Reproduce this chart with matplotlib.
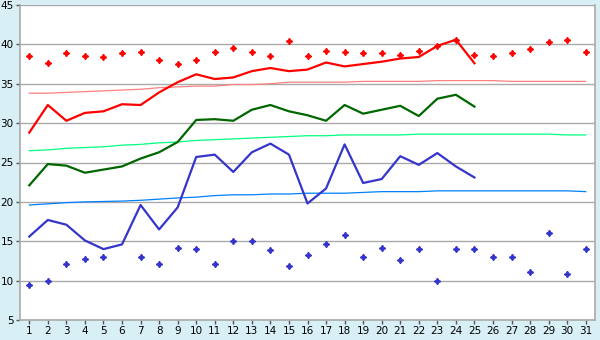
import numpy as np
import matplotlib
matplotlib.use("Agg")
import matplotlib.pyplot as plt

days = list(range(1, 32))

# daily max / mean / min (days 1-25)
tmax = [28.8, 32.3, 30.3, 31.3, 31.5, 32.4, 32.3, 33.9, 35.2, 36.2,
        35.6, 35.8, 36.6, 37.0, 36.6, 36.8, 37.7, 37.2, 37.5, 37.8,
        38.2, 38.4, 39.8, 40.6, 37.6]
tmean = [22.1, 24.8, 24.6, 23.7, 24.1, 24.5, 25.5, 26.3, 27.6, 30.4,
         30.5, 30.3, 31.7, 32.3, 31.5, 31.0, 30.3, 32.3, 31.2, 31.7,
         32.2, 30.9, 33.1, 33.6, 32.1]
tmin = [15.6, 17.7, 17.1, 15.1, 14.0, 14.6, 19.6, 16.5, 19.3, 25.7,
        26.0, 23.8, 26.3, 27.4, 26.0, 19.8, 21.7, 27.3, 22.4, 22.9,
        25.8, 24.7, 26.2, 24.5, 23.1]

# record values per day
rec_max = [38.5, 37.6, 38.9, 38.5, 38.4, 38.9, 39.0, 38.0, 37.5, 38.0,
           39.0, 39.6, 39.0, 38.5, 40.4, 38.5, 39.1, 39.0, 38.9, 38.9,
           38.7, 39.2, 39.8, 40.6, 38.6, 38.5, 38.9, 39.4, 40.3, 40.6,
           39.0]
rec_min = [9.4, 10.0, 12.1, 12.8, 13.0, None, 13.0, 12.1, 14.2, 14.0,
           12.1, 15.0, 15.0, 13.9, 11.8, 13.2, 14.6, 15.8, 13.0, 14.2,
           12.6, 14.0, 10.0, 14.0, 14.0, 13.0, 13.0, 11.1, 16.0, 10.8,
           14.0]

# normals
norm_max = [33.8, 33.8, 33.9, 34.0, 34.1, 34.2, 34.3, 34.5, 34.6, 34.7,
            34.7, 34.9, 34.9, 35.0, 35.2, 35.2, 35.2, 35.2, 35.3, 35.3,
            35.3, 35.3, 35.4, 35.4, 35.4, 35.4, 35.3, 35.3, 35.3, 35.3,
            35.3]
norm_mean = [26.5, 26.6, 26.8, 26.9, 27.0, 27.2, 27.3, 27.5, 27.6, 27.8,
             27.9, 28.0, 28.1, 28.2, 28.3, 28.4, 28.4, 28.5, 28.5, 28.5,
             28.5, 28.6, 28.6, 28.6, 28.6, 28.6, 28.6, 28.6, 28.6, 28.5,
             28.5]
norm_min = [19.6, 19.75, 19.9, 20.0, 20.05, 20.1, 20.2, 20.35, 20.5, 20.6,
            20.8, 20.9, 20.9, 21.0, 21.0, 21.1, 21.1, 21.1, 21.2, 21.3,
            21.3, 21.3, 21.4, 21.4, 21.4, 21.4, 21.4, 21.4, 21.4, 21.4,
            21.3]

bg = "#d9eff6"
fig = plt.figure(figsize=(6, 3.4), dpi=100, facecolor=bg)
ax = fig.add_axes([20/600, 1-320/340, 575/600, 315/340])
ax.set_facecolor("white")

ax.plot(days, norm_max, color="#ff8080", lw=0.9, zorder=2)
ax.plot(days, norm_mean, color="#00ff80", lw=0.9, zorder=2)
ax.plot(days, norm_min, color="#0080ff", lw=0.9, zorder=2)

ax.plot(days[:len(tmax)], tmax, color="#ff0000", lw=1.6, zorder=3)
ax.plot(days[:len(tmean)], tmean, color="#006600", lw=1.6, zorder=3)
ax.plot(days[:len(tmin)], tmin, color="#3535cc", lw=1.6, zorder=3)

rmin = np.array([np.nan if v is None else v for v in rec_min])
ax.plot(days, rec_max, ls="none", marker=(4, 1, 0), ms=4.5, color="#ff0000", zorder=4)
ax.plot(days, rmin, ls="none", marker=(4, 1, 0), ms=4.5, color="#3535cc", zorder=4)

ax.set_xlim(0.5, 31.5)
ax.set_ylim(5, 45)
ax.set_xticks(days)
ax.set_yticks(range(5, 46, 5))
ax.yaxis.grid(True, color="#aaaaaa", lw=1)
ax.set_axisbelow(True)
for s in ax.spines.values():
    s.set_color("#aaaaaa")
    s.set_linewidth(1.2)
ax.spines["top"].set_visible(False)
ax.tick_params(axis="both", colors="#555555", labelcolor="black", labelsize=7.5,
               length=3, width=1, direction="out", pad=1.5)

fig.savefig("out.png", dpi=100, facecolor=bg)
